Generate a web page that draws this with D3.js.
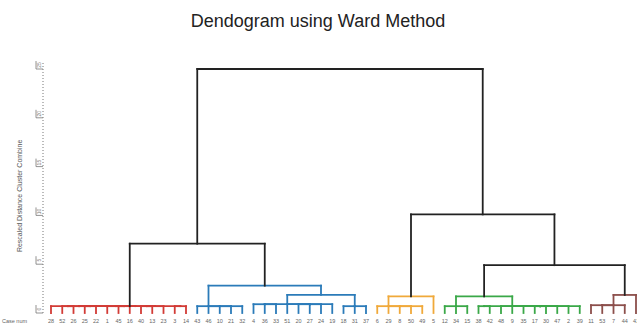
<!DOCTYPE html>
<html>
<head>
  <title>Dendogram using Ward Method</title>
  <script src="https://d3js.org/d3.v7.min.js"></script>
  <style>
    body { margin: 0; background: #fff; }
    text { font-family: "Liberation Sans", Arial, sans-serif; }
  </style>
</head>
<body>
  <svg id="svg"></svg>
  <script>
    // leaf order, left to right
    const cases = [28, 52, 26, 25, 22, 1, 45, 16, 40, 13, 23, 3, 14,
      43, 46, 10, 21, 32, 4, 36, 33, 51, 20, 27, 24, 19, 18, 31, 37,
      6, 29, 8, 50, 49, 5,
      12, 34, 15, 38, 42, 48, 9, 35, 17, 30, 47, 2, 39,
      11, 53, 7, 44, 41];

    // coloured clusters, in leaf order
    const groupSizes = [13, 16, 6, 13, 5];
    const groupColors = ["#d23b36", "#2b7bb9", "#f0a93a", "#3aa848", "#8c4f4b"];

    // agglomeration schedule: [case in cluster 1, case in cluster 2, rescaled distance]
    const schedule = [
      [52, 26, 0.7], [25, 22, 0.7], [52, 25, 0.7], [45, 16, 0.7], [1, 45, 0.7], [40, 13, 0.7],
      [40, 23, 0.7], [1, 40, 0.7], [52, 1, 0.7], [28, 52, 0.7], [3, 14, 0.7], [28, 3, 0.7],
      [10, 32, 0.7], [10, 21, 0.7], [46, 10, 0.7], [43, 46, 0.7],
      [4, 33, 0.9], [4, 36, 0.9], [51, 19, 0.9], [20, 24, 0.9], [51, 20, 0.9], [51, 27, 0.9], [4, 51, 0.9],
      [18, 37, 0.7], [18, 31, 0.7],
      [4, 18, 1.85], [43, 4, 2.8],
      [28, 43, 7.1],
      [8, 49, 0.7], [8, 50, 0.7], [29, 8, 0.7], [6, 29, 0.7], [6, 5, 1.7],
      [12, 15, 0.7], [12, 34, 0.7],
      [38, 42, 0.7], [48, 39, 0.7], [9, 2, 0.7], [35, 47, 0.7], [17, 30, 0.7],
      [48, 9, 0.7], [48, 35, 0.7], [48, 17, 0.7], [38, 48, 0.7],
      [12, 38, 1.7],
      [11, 7, 0.8], [11, 53, 0.8], [11, 44, 0.8], [11, 41, 1.85],
      [12, 11, 4.9], [6, 12, 10.1], [28, 6, 25]
    ];

    const yTicks = [0, 5, 10, 15, 20, 25];

    const width = 637, height = 325;

    const svg = d3.select("#svg")
      .attr("width", width)
      .attr("height", height);

    const xScale = d3.scalePoint().domain(cases).range([51, 636]);
    const yScale = d3.scaleLinear().domain([0, 25]).range([313, 69]);

    // which coloured group each case belongs to
    const groupOf = new Map();
    let pos = 0;
    groupSizes.forEach((n, g) => {
      cases.slice(pos, pos + n).forEach(c => groupOf.set(c, g));
      pos += n;
    });

    const clusterOf = new Map();
    cases.forEach(c => clusterOf.set(c, { x: xScale(c), h: 0, members: [c], group: groupOf.get(c) }));

    const segs = [];
    schedule.forEach(([a, b, h]) => {
      let ca = clusterOf.get(a), cb = clusterOf.get(b);
      let group = ca.group === cb.group ? ca.group : -1;
      let color = group >= 0 ? groupColors[group] : "#222";
      segs.push({ x1: ca.x, y1: yScale(ca.h), x2: ca.x, y2: yScale(h), color });
      segs.push({ x1: cb.x, y1: yScale(cb.h), x2: cb.x, y2: yScale(h), color });
      segs.push({ x1: ca.x, y1: yScale(h), x2: cb.x, y2: yScale(h), color });
      let merged = { x: (ca.x + cb.x) / 2, h, members: ca.members.concat(cb.members), group };
      merged.members.forEach(c => clusterOf.set(c, merged));
    });

    svg.append("g")
      .selectAll("line")
      .data(segs)
      .join("line")
      .attr("x1", d => d.x1)
      .attr("y1", d => d.y1)
      .attr("x2", d => d.x2)
      .attr("y2", d => d.y2)
      .attr("stroke", d => d.color)
      .attr("stroke-width", 1.8)
      .attr("stroke-linecap", "square");

    // title
    svg.append("text")
      .attr("x", 318)
      .attr("y", 27)
      .attr("text-anchor", "middle")
      .attr("font-size", 18)
      .attr("fill", "#222")
      .text("Dendogram using Ward Method");

    // rescaled distance axis (dotted, rotated labels)
    const axisX = 43;
    svg.append("line")
      .attr("x1", axisX).attr("x2", axisX)
      .attr("y1", yScale(25) - 6).attr("y2", yScale(0))
      .attr("stroke", "#777")
      .attr("stroke-width", 1)
      .attr("stroke-dasharray", "1,2");

    const ticks = svg.append("g").selectAll("g")
      .data(yTicks)
      .join("g")
      .attr("transform", d => `translate(0, ${yScale(d)})`);

    ticks.append("path")
      .attr("d", `M36,-8V0H${axisX}`)
      .attr("fill", "none")
      .attr("stroke", "#777")
      .attr("stroke-width", 0.8);

    ticks.append("text")
      .attr("transform", "translate(41, -4) rotate(-90)")
      .attr("text-anchor", "middle")
      .attr("font-size", 5)
      .attr("fill", "#777")
      .text(d => d);

    svg.append("text")
      .attr("transform", `translate(22, ${yScale(12)}) rotate(-90)`)
      .attr("text-anchor", "middle")
      .attr("font-size", 7)
      .attr("fill", "#555")
      .text("Rescaled Distance Cluster Combine");

    // case labels
    svg.append("g")
      .selectAll("text")
      .data(cases)
      .join("text")
      .attr("x", d => xScale(d))
      .attr("y", 323)
      .attr("text-anchor", "middle")
      .attr("font-size", 5.5)
      .attr("fill", "#666")
      .text(d => d);

    svg.append("text")
      .attr("x", 2)
      .attr("y", 323)
      .attr("font-size", 5.5)
      .attr("fill", "#666")
      .text("Case num");
  </script>
</body>
</html>
